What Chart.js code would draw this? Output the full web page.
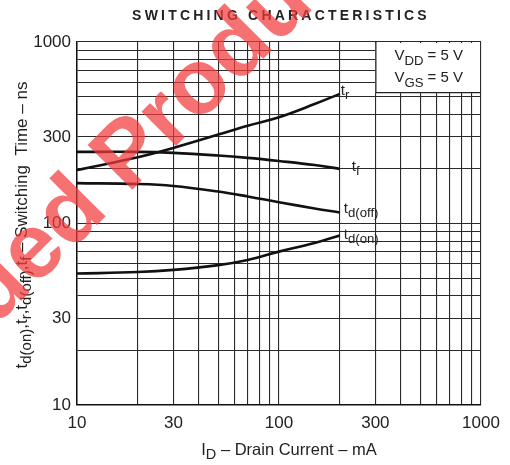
<!DOCTYPE html>
<html>
<head>
<meta charset="utf-8">
<script src="https://cdn.jsdelivr.net/npm/chart.js@4.4.0/dist/chart.umd.min.js"></script>
<style>
  body { margin: 0; background: #fff; }
  #wrap { width: 510px; height: 465px; }
</style>
</head>
<body>
<div id="wrap"><canvas id="switchChart" width="510" height="465"></canvas></div>
<script>
// drain current, mA
const drainCurrent = [10, 20, 30, 50, 70, 100, 150, 200];
// switching times, ns
const tRise = [197, 232, 261, 309, 346, 385, 455, 518];
const tFall = [248, 248, 245, 237, 230, 221, 210, 200];
const tdOff = [167, 165, 161, 150, 141, 131, 121, 115];
const tdOn = [53, 54, 55.5, 59, 63, 70, 78, 86];

// log grid + which ones get a label
const gridValues = [10, 20, 30, 40, 50, 60, 70, 80, 90, 100, 200, 300, 400, 500, 600, 700, 800, 900, 1000];
const labeledTicks = [10, 30, 100, 300, 1000];

const FONT = '"Liberation Sans", Arial, sans-serif';
const INK = '#222';

const toPoints = (ys) => drainCurrent.map((x, i) => ({ x: x, y: ys[i] }));

// draws text with subscript parts, returns width
function drawRich(ctx, parts, x, y, size, measureOnly) {
    let cx = x;
    parts.forEach(p => {
        const sub = p[1];
        ctx.font = (sub ? size * 0.88 : size) + 'px ' + FONT;
        if (!measureOnly) ctx.fillText(p[0], cx, y + (sub ? size * 0.3 : 0));
        cx += ctx.measureText(p[0]).width;
    });
    return cx - x;
}

const curveLabels = [
    { data: tRise, parts: [['t'], ['r', 1]], dx: 1, dy: -3 },
    { data: tFall, parts: [['t'], ['f', 1]], dx: 12, dy: -2 },
    { data: tdOff, parts: [['t'], ['d(off)', 1]], dx: 4, dy: -4 },
    { data: tdOn, parts: [['t'], ['d(on)', 1]], dx: 4, dy: -1 },
];

const decorPlugin = {
    id: 'decor',
    beforeDatasetsDraw(chart) {
        const { ctx, chartArea, scales } = chart;
        const x = scales.x, y = scales.y;
        // condition box in the top right corner
        const bx = x.getPixelForValue(300);
        const by = y.getPixelForValue(530);
        ctx.save();
        ctx.fillStyle = '#fff';
        ctx.fillRect(bx, chartArea.top + 1, chartArea.right - bx - 1, by - chartArea.top);
        ctx.strokeStyle = '#222';
        ctx.lineWidth = 1.2;
        ctx.beginPath();
        ctx.moveTo(bx + 0.5, chartArea.top);
        ctx.lineTo(bx + 0.5, by + 0.5);
        ctx.lineTo(chartArea.right, by + 0.5);
        ctx.stroke();
        ctx.fillStyle = INK;
        ctx.textBaseline = 'alphabetic';
        ctx.textAlign = 'left';
        drawRich(ctx, [['V'], ['DD', 1], [' = 5 V']], bx + 19, chartArea.top + 18, 15);
        drawRich(ctx, [['V'], ['GS', 1], [' = 5 V']], bx + 19, chartArea.top + 40, 15);
        ctx.restore();
    },
    afterDraw(chart) {
        const { ctx, chartArea, scales } = chart;
        const x = scales.x, y = scales.y;
        ctx.save();
        ctx.fillStyle = INK;
        ctx.textBaseline = 'middle';
        ctx.textAlign = 'left';

        // curve names at the right end of each line
        curveLabels.forEach(l => {
            const n = l.data.length - 1;
            const px = x.getPixelForValue(drainCurrent[n]) + l.dx;
            const py = y.getPixelForValue(l.data[n]) + l.dy;
            drawRich(ctx, l.parts, px, py, 15);
        });

        // title
        ctx.font = 'bold 14px ' + FONT;
        ctx.letterSpacing = '3.2px';
        ctx.textAlign = 'center';
        ctx.fillText('SWITCHING CHARACTERISTICS', 281, 16);
        ctx.letterSpacing = '0px';

        // x axis title
        ctx.textAlign = 'left';
        const xParts = [['I'], ['D', 1], [' \u2013 Drain Current \u2013 mA']];
        const xw = drawRich(ctx, xParts, 0, 0, 16.5, true);
        drawRich(ctx, xParts, 289 - xw / 2, 450, 16.5);

        // y axis title (rotated)
        const yParts = [['t'], ['d(on)', 1], [',t'], ['r', 1], [',t'], ['d(off)', 1], [',t'], ['f', 1], [' \u2013 Switching  Time \u2013 ns']];
        const yw = drawRich(ctx, yParts, 0, 0, 17, true);
        ctx.translate(22, 225);
        ctx.rotate(-Math.PI / 2);
        drawRich(ctx, yParts, -yw / 2, 0, 17);
        ctx.restore();

        // red watermark over the sheet
        ctx.save();
        ctx.globalAlpha = 0.72;
        ctx.fillStyle = '#f23a3a';
        ctx.font = 'bold 92px ' + FONT;
        ctx.textBaseline = 'alphabetic';
        ctx.translate(128, 194);
        ctx.rotate(-Math.PI / 4);
        ctx.textAlign = 'left';
        ctx.fillText('Product', 0, 0);
        ctx.textAlign = 'right';
        ctx.fillText('Discontinued ', 0, 0);
        ctx.restore();
    }
};

const lineStyle = {
    borderColor: '#111',
    borderWidth: 2.6,
    pointRadius: 0,
    fill: false,
    tension: 0.4,
};

const logAxis = (extra) => Object.assign({
    type: 'logarithmic',
    min: 10,
    max: 1000,
    afterBuildTicks: (scale) => {
        scale.ticks = gridValues.map(v => ({ value: v }));
    },
    ticks: {
        autoSkip: false,
        maxRotation: 0,
        color: INK,
        font: { family: FONT, size: 17 },
        callback: (v) => labeledTicks.includes(v) ? String(v) : '',
    },
    grid: {
        color: '#2a2a2a',
        lineWidth: 1.1,
        drawTicks: false,
    },
    border: { display: true, color: '#111', width: 1.5 },
}, extra);

new Chart(document.getElementById('switchChart').getContext('2d'), {
    type: 'line',
    data: {
        datasets: [
            Object.assign({ label: 'tr', data: toPoints(tRise) }, lineStyle),
            Object.assign({ label: 'tf', data: toPoints(tFall) }, lineStyle),
            Object.assign({ label: 'td(off)', data: toPoints(tdOff) }, lineStyle),
            Object.assign({ label: 'td(on)', data: toPoints(tdOn) }, lineStyle),
        ],
    },
    options: {
        responsive: false,
        animation: false,
        layout: { padding: { top: 42, right: 29, left: 0, bottom: 0 } },
        plugins: {
            legend: { display: false },
            tooltip: { enabled: false },
        },
        scales: {
            x: logAxis({
                afterFit: (s) => { s.height = 60; },
                ticks: Object.assign({}, logAxis().ticks, { padding: 8 }),
            }),
            y: logAxis({
                afterFit: (s) => { s.width = 77; },
                ticks: Object.assign({}, logAxis().ticks, { padding: 6 }),
            }),
        },
    },
    plugins: [decorPlugin],
});
</script>
</body>
</html>
